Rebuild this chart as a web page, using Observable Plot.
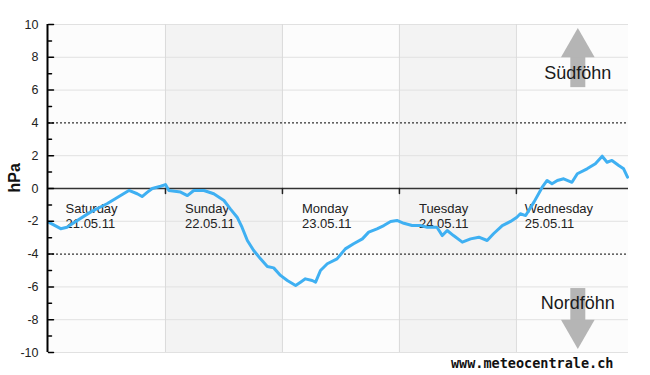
<!DOCTYPE html>
<html>
<head>
<meta charset="utf-8">
<script src="https://cdn.jsdelivr.net/npm/d3@7"></script>
<script src="https://cdn.jsdelivr.net/npm/@observablehq/plot@0.6"></script>
<style>
  html, body { margin: 0; padding: 0; background: #ffffff; }
</style>
</head>
<body>
<div id="chart"></div>
<script>
// Hours since Saturday 21.05.11 00:00
const hours = [0, 2.5, 3.8, 5.9, 8.6, 12.0, 14.8, 16.5, 18.2, 19.2, 20.3, 21.3, 23.0, 24.0, 24.7, 27.1, 28.5, 29.8, 31.9, 33.9,
  36.0, 37.3, 38.7, 39.7, 40.8, 42.1, 43.5, 44.9, 46.2, 47.6, 49.0, 50.7, 51.7, 52.7, 54.1, 54.8, 55.8, 57.2, 59.2, 60.9,
  62.6, 64.4, 65.7, 67.4, 68.8, 70.2, 71.5, 72.9, 74.6, 76.3, 77.7, 79.7, 80.8, 81.8, 83.1, 84.9, 86.6, 88.3, 90.0, 91.3,
  93.1, 94.8, 96.1, 96.8, 97.9, 99.6, 101.3, 102.3, 103.3, 104.4, 105.7, 107.4, 108.5, 110.5, 112.2, 113.6, 114.6, 115.6,
  117.0, 118.0, 118.8];
const hpa = [-2.05, -2.45, -2.36, -1.95, -1.44, -0.93, -0.43, -0.12, -0.32, -0.49, -0.22, 0.0, 0.14, 0.24, -0.12, -0.22, -0.43, -0.12, -0.12, -0.32,
  -0.73, -1.24, -1.75, -2.36, -3.17, -3.78, -4.29, -4.76, -4.84, -5.3, -5.61, -5.91, -5.71, -5.51, -5.61, -5.71, -5.0, -4.59, -4.29, -3.68,
  -3.37, -3.07, -2.66, -2.46, -2.26, -2.01, -1.95, -2.12, -2.26, -2.26, -2.36, -2.36, -2.87, -2.56, -2.87, -3.27, -3.07, -2.97, -3.17, -2.76,
  -2.26, -2.01, -1.75, -1.54, -1.65, -0.83, 0.08, 0.49, 0.29, 0.49, 0.59, 0.38, 0.9, 1.2, 1.51, 1.97, 1.6, 1.71,
  1.4, 1.2, 0.69];

const dayNames = ["Saturday", "Sunday", "Monday", "Tuesday", "Wednesday"];
const dayDates = ["21.05.11", "22.05.11", "23.05.11", "24.05.11", "25.05.11"];
const dayStart = [0, 24, 48, 72, 96];
const dayEnd = [24, 48, 72, 96, 119];
const dayShaded = [false, true, false, true, false];

const yMajor = [-10, -8, -6, -4, -2, 0, 2, 4, 6, 8, 10];
const yMinor = [-9, -7, -5, -3, -1, 1, 3, 5, 7, 9];
const gridY = [-10, -8, -6, -2, 2, 6, 8, 10];
const warnY = [-4, 4];

const foehnLabels = ["Südföhn", "Nordföhn"];
const foehnLevel = [7, -7];
const watermark = "www.meteocentrale.ch";

const series = hours.map((h, i) => ({h, v: hpa[i]}));
const days = dayNames.map((name, i) => ({name, date: dayDates[i], start: dayStart[i], end: dayEnd[i], shaded: dayShaded[i]}));
const arrowX = 108.6;
const labelOffset = i => (i === 4 ? 1.7 : i === 0 ? 3.5 : 4.0);
const tickShape = {draw(context, l) { context.moveTo(0, 0); context.lineTo(0, -l); }};

const chart = Plot.plot({
  width: 650,
  height: 375,
  marginLeft: 48,
  marginRight: 22,
  marginTop: 24,
  marginBottom: 23,
  x: {domain: [0, 119], axis: null},
  y: {domain: [-10, 10], axis: null},
  style: {fontFamily: "'Liberation Sans', Arial, sans-serif", background: "#ffffff", color: "#222"},
  marks: [
    Plot.rect(days, {x1: "start", x2: "end", y1: -10, y2: 10, fill: d => d.shaded ? "#f3f3f3" : "#fcfcfc"}),
    Plot.ruleY(gridY, {stroke: "#e1e1e1", strokeWidth: 1}),
    Plot.ruleX(dayStart.slice(1), {stroke: "#dadada", strokeWidth: 1}),
    // arrows
    Plot.ruleX([arrowX], {y1: 6.15, y2: 8.1, stroke: "#b5b5b5", strokeWidth: 15}),
    Plot.dot([arrowX], {x: d => d, y: 8.6, symbol: "triangle", r: 12.5, fill: "#b5b5b5", stroke: null}),
    Plot.ruleX([arrowX], {y1: -6.1, y2: -8.1, stroke: "#b5b5b5", strokeWidth: 15}),
    Plot.dot([arrowX], {x: d => d, y: -8.6, symbol: "triangle", r: 12.5, rotate: 180, fill: "#b5b5b5", stroke: null}),
    Plot.text(foehnLabels, {x: arrowX, y: (d, i) => foehnLevel[i], text: d => d, fontSize: 18, fill: "#1a1a1a"}),
    // reference lines
    Plot.ruleY(warnY, {stroke: "#000", strokeWidth: 1, strokeDasharray: "2,2"}),
    Plot.ruleY([0], {stroke: "#333", strokeWidth: 1.5}),
    Plot.vector(dayStart.slice(1), {x: d => d, y: 0, length: 5, rotate: 180, anchor: "start", shape: tickShape, stroke: "#222", strokeWidth: 1.5}),
    // day labels
    Plot.text(days, {x: (d, i) => d.start + labelOffset(i), y: 0, text: d => d.name + "\n" + d.date,
      textAnchor: "start", lineAnchor: "top", dy: 14, fontSize: 13, lineHeight: 1.15, fill: "#222"}),
    // data line
    Plot.line(series, {x: "h", y: "v", stroke: "#3fb0f2", strokeWidth: 3, strokeLinejoin: "round", curve: "linear"}),
    // y axis
    Plot.ruleX([0], {stroke: "#000", strokeWidth: 2, dx: -1}),
    Plot.vector(yMajor, {x: 0, y: d => d, length: 5, rotate: 90, anchor: "start", shape: tickShape, stroke: "#000", strokeWidth: 1.5}),
    Plot.vector(yMinor, {x: 0, y: d => d, length: 3, rotate: 90, anchor: "start", shape: tickShape, stroke: "#000", strokeWidth: 1.5}),
    Plot.axisY({ticks: yMajor, tickSize: 0, tickPadding: 10, tickFormat: d => String(d), fontSize: 12.5, fill: "#222", label: null}),
    Plot.text(["hPa"], {frameAnchor: "left", dx: -34, dy: 4, rotate: -90, fontWeight: "bold", fontSize: 16, fill: "#111"}),
    Plot.text([watermark], {frameAnchor: "bottom-right", lineAnchor: "middle", textAnchor: "end", dx: -15, dy: 11,
      fontFamily: "'DejaVu Sans Mono', monospace", fontWeight: "bold", fontSize: 13.5, fill: "#111"})
  ]
});
document.getElementById("chart").appendChild(chart);
</script>
</body>
</html>
